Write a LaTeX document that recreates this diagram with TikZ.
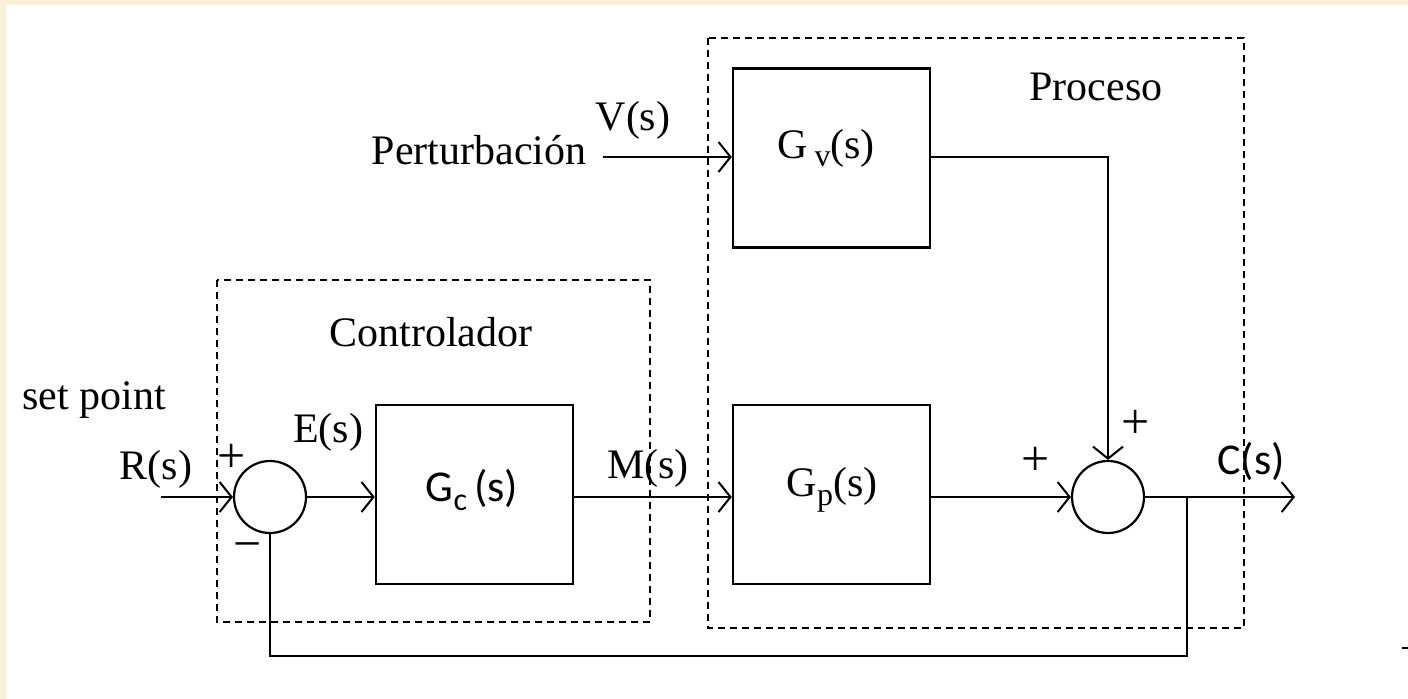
\documentclass[tikz,border=0pt]{standalone}
\usepackage{fontspec}
\setmainfont{Liberation Serif}
\newfontfamily\sansf{Carlito}
\usetikzlibrary{arrows.meta}
\definecolor{cream}{RGB}{251,240,218}
\newcommand{\lowsub}[1]{\raisebox{-0.45ex}{\fontsize{16}{16}\selectfont #1}}
\begin{document}
\begin{tikzpicture}[x=0.5pt,y=-0.5pt,
  blk/.style={draw, line width=1.2pt, minimum width=98.5pt, minimum height=89.5pt, inner sep=0pt},
  sumc/.style={draw, circle, line width=1.1pt, minimum size=36pt, inner sep=0pt},
  sig/.style={line width=1.2pt, -{Straight Barb[length=6pt,width=15pt,line width=1pt]}},
  wire/.style={line width=1.2pt},
  grp/.style={line width=1pt, dash pattern=on 3.5pt off 2.5pt},
  lbl/.style={inner sep=0pt, font=\fontsize{21}{24}\selectfont},
  slbl/.style={inner sep=0pt, font=\sansf\fontsize{22}{24}\selectfont},
  sgn/.style={inner sep=0pt, font=\fontsize{25}{26}\selectfont}]
\fill[cream] (0,0) rectangle (1408,699);
\fill[white] (6,5) rectangle (1408,699);
\useasboundingbox (0,0) rectangle (1408,699);

% group frames
\draw[grp] (217,280) rectangle (650,622);
\draw[grp] (708,38) rectangle (1244,628);

% blocks
\node[blk] (Gc) at (474.5,494.5) {};
\node[blk] (Gp) at (831.5,494.5) {};
\node[blk] (Gv) at (831.5,158) {};
\node[sumc] (s1) at (270,497) {};
\node[sumc] (s2) at (1108,497) {};

% block texts
\node[slbl] (tGc) at (472,490) {G\lowsub{c}\,(s)};
\node[lbl] (tGp) at (832,490) {G\lowsub{p}(s)};
\node[lbl] (tGv) at (826,148) {G\,\lowsub{v}(s)};

% coordinates
\coordinate (rin) at (161,497);
\coordinate (pin) at (603,157);
\coordinate (cout) at (1295,497);
\coordinate (br) at (1187,497);
\coordinate (fb1) at (1187,656);
\coordinate (fb2) at (270,656);

% connectors
\draw[sig] (rin) -- (s1.west);
\draw[sig] (s1.east) -- (Gc.west |- s1.east);
\draw[sig] (Gc.east |- s1.east) -- (Gp.west |- s1.east);
\draw[sig] (Gp.east |- s2.west) -- (s2.west);
\draw[sig] (s2.east) -- (cout);
\draw[sig] (pin) -- (Gv.west |- pin);
\draw[sig] (Gv.east |- pin) -- (s2.north |- pin) -- (s2.north);
\draw[wire] (br) -- (fb1) -- (fb2) -- (s1.south);
\draw[wire] (1402,648) -- (1408,648);

% labels
\node[lbl] (lpert) at (479,150) {Perturbación};
\node[lbl] (lV) at (633,120) {V(s)};
\node[lbl] (lproc) at (1096,87) {Proceso};
\node[lbl] (lctrl) at (431,332) {Controlador};
\node[lbl] (lset) at (94,400) {set point};
\node[lbl] (lR) at (156,469) {R(s)};
\node[lbl] (lE) at (328,432) {E(s)};
\node[lbl] (lM) at (648,468) {M(s)};
\node[slbl] (lC) at (1251,461) {C(s)};
\node[sgn] (p1) at (232,458) {+};
\node[sgn] (m1) at (248,552) {\textminus};
\node[sgn] (p2) at (1036,461) {+};
\node[sgn] (p3) at (1136,424) {+};
\end{tikzpicture}
\end{document}
